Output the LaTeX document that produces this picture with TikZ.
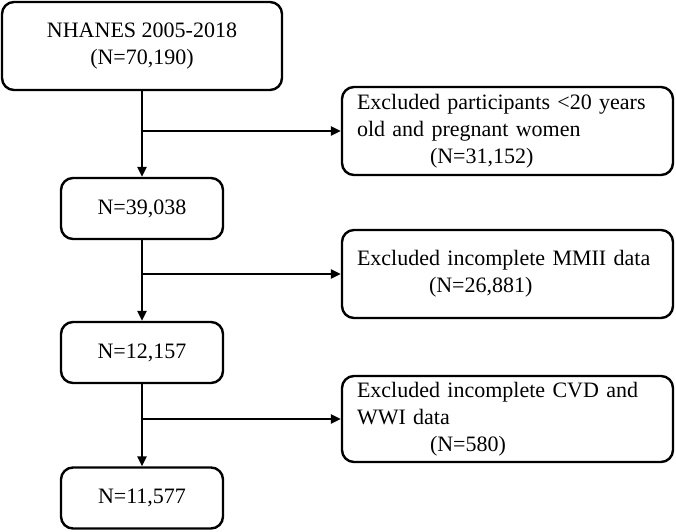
\documentclass[tikz,border=0pt]{standalone}
\usepackage{fontspec}
\setmainfont{Liberation Serif}
\usetikzlibrary{arrows.meta}
\begin{document}
\begin{tikzpicture}[x=1pt,y=-1pt,
  box/.style={draw=black, line width=2.4pt, rounded corners=12pt, inner sep=0pt,
    font=\fontsize{22}{27}\selectfont},
  sidebox/.style={box, minimum width=331pt, text width=301pt, align=left},
  link/.style={line width=2.4pt, -{Triangle[length=10pt,width=9pt]}}]
\useasboundingbox (0,0) rectangle (676,531);
\node[box, minimum width=280pt, minimum height=88pt, align=center] (n1) at (142,46) {NHANES 2005-2018\\(N=70,190)};
\node[box, minimum width=162pt, minimum height=61pt] (n2) at (142,208.5) {N=39,038};
\node[box, minimum width=162pt, minimum height=61pt] (n3) at (142,352.5) {N=12,157};
\node[box, minimum width=162pt, minimum height=61pt] (n4) at (142,498) {N=11,577};
\node[sidebox, minimum height=88pt] (e1) at (507.5,131) {Excluded participants <20 years\\old and pregnant women\\\hspace*{73pt}(N=31,152)};
\node[sidebox, minimum height=88pt] (e2) at (507.5,274) {Excluded incomplete MMII data\\\hspace*{72pt}(N=26,881)};
\node[sidebox, minimum height=86pt] (e3) at (507.5,419) {Excluded incomplete CVD and\\WWI data\\\hspace*{73pt}(N=580)};
\coordinate (b1) at (n1.south |- e1.west);
\coordinate (b2) at (n2.south |- e2.west);
\coordinate (b3) at (n3.south |- e3.west);
\draw[link] (n1.south) -- (n2.north);
\draw[link] (n2.south) -- (n3.north);
\draw[link] (n3.south) -- (n4.north);
\draw[link] (b1) -- (e1.west);
\draw[link] (b2) -- (e2.west);
\draw[link] (b3) -- (e3.west);
\end{tikzpicture}
\end{document}
